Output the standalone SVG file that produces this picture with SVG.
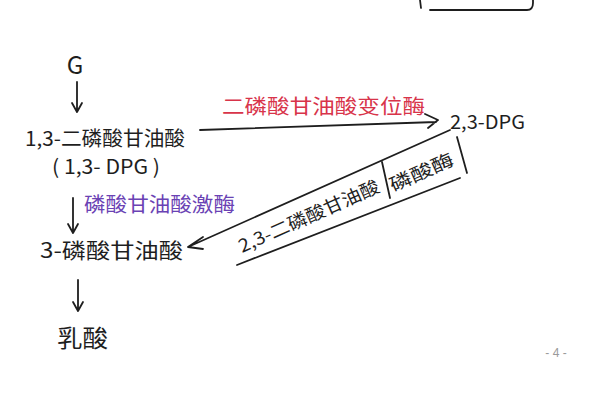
<svg xmlns="http://www.w3.org/2000/svg" width="616" height="420" viewBox="0 0 616 420">
<style>
.ink{fill:none;stroke:#1e1e1e;stroke-width:1.8;stroke-linecap:round;stroke-linejoin:round}
.t{font-family:"Noto Sans CJK SC","Noto Sans",sans-serif;fill:#1e1e1e}
.red{font-family:"Noto Sans CJK SC",sans-serif;fill:#d8344a}
.pur{font-family:"Noto Sans CJK SC",sans-serif;fill:#6a42b4}
</style>
<rect width="616" height="420" fill="#ffffff"/>
<g id="corner-box"><path class="ink" d="M420 0 L421 8 M430 10 L527 10 Q533 10 533 3 L533 0"/></g>
<g id="connectors">
<path class="ink" d="M77 82 L77 111 M72 103 L77 112 L82 103"/>
<path class="ink" d="M200 130 L436 122 M425 114 L438 120 L428 128"/>
<path class="ink" d="M73 198 L73 232 M68 224 L73 233 L78 224"/>
<path class="ink" d="M78 280 L78 310 M73 302 L78 311 L83 302"/>
<path class="ink" d="M450 130 L188 247 M203 237 L188 247 L203 249"/>
<path class="ink" d="M237 265 L460 178 M382 162 L390 198 M457 137 L467 173"/>
</g>
<g id="n-G"><text class="t" x="75" y="74" font-size="24" text-anchor="middle">G</text></g>
<g id="n-13dpg">
<text class="t" x="25" y="146" font-size="20" textLength="160" lengthAdjust="spacingAndGlyphs">1,3-二磷酸甘油酸</text>
<text class="t" x="52" y="174" font-size="20" textLength="108" lengthAdjust="spacingAndGlyphs">( 1,3- DPG )</text>
</g>
<g id="n-23dpg"><text class="t" x="450" y="129" font-size="19" textLength="75" lengthAdjust="spacingAndGlyphs">2,3-DPG</text></g>
<g id="n-3pg"><text class="t" x="40" y="258" font-size="21" textLength="143" lengthAdjust="spacingAndGlyphs">3-磷酸甘油酸</text></g>
<g id="n-lactate"><text class="t" x="57" y="347" font-size="24" textLength="51" lengthAdjust="spacingAndGlyphs">乳酸</text></g>
<g id="labels">
<text class="red" x="222" y="114" font-size="20" textLength="203" lengthAdjust="spacingAndGlyphs">二磷酸甘油酸变位酶</text>
<text class="pur" x="84" y="212" font-size="20" textLength="151" lengthAdjust="spacingAndGlyphs">磷酸甘油酸激酶</text>
<text class="t" font-size="18" transform="translate(242,253) rotate(-24)" textLength="152" lengthAdjust="spacingAndGlyphs">2,3-二磷酸甘油酸</text>
<text class="t" font-size="18" transform="translate(393,192) rotate(-24)" textLength="68" lengthAdjust="spacingAndGlyphs">磷酸酶</text>
</g>
<g id="page"><text x="556" y="357" font-family="Liberation Sans,sans-serif" font-size="12" fill="#9a9a9a" text-anchor="middle">- 4 -</text></g>
</svg>
